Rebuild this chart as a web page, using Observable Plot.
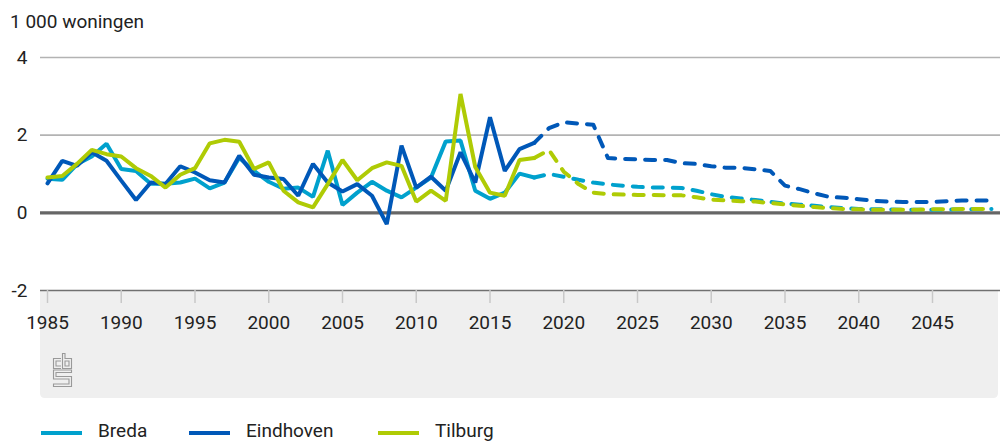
<!DOCTYPE html>
<html>
<head>
<meta charset="utf-8">
<script src="https://cdn.jsdelivr.net/npm/d3@7"></script>
<script src="https://cdn.jsdelivr.net/npm/@observablehq/plot@0.6"></script>
<style>
  html, body { margin: 0; padding: 0; background: #fff; }
  body { width: 1000px; height: 443px; overflow: hidden; font-family: Roboto, "Noto Sans", sans-serif; color: #222; }
  #title { position: relative; height: 40px; }
  #title span { position: absolute; left: 10px; top: 12px; font-size: 19px; line-height: 19px; }
  #chart { height: 360px; }
  #chart svg { display: block; }
  #legend { position: relative; height: 43px; }
  .item { position: absolute; top: 21px; font-size: 19px; line-height: 20px; }
  .sw { position: absolute; width: 41px; height: 4px; }
</style>
</head>
<body>
<div id="title"><span>1 000 woningen</span></div>
<div id="chart"></div>
<div id="legend"></div>
<script>
const firstYear = 1985;
const lastYear = 2049;
const lastObserved = 2018;
const cities = ["Breda", "Eindhoven", "Tilburg"];
const cityColors = ["#00a1cd", "#0058b8", "#afcb05"];
const yTicks = [-2, 0, 2, 4];
const xTicks = [1985, 1990, 1995, 2000, 2005, 2010, 2015, 2020, 2025, 2030, 2035, 2040, 2045];

// values in 1 000 woningen, 1985 .. 2049
const breda = [
  0.88, 0.85, 1.25, 1.45, 1.78, 1.13, 1.08, 0.75, 0.75, 0.78,
  0.88, 0.63, 0.78, 1.42, 1.08, 0.80, 0.62, 0.65, 0.41, 1.60,
  0.20, 0.52, 0.80, 0.57, 0.40, 0.65, 0.91, 1.84, 1.86, 0.57,
  0.36, 0.52, 1.01, 0.91,
  1.00, 0.93, 0.85, 0.78, 0.73, 0.70, 0.67, 0.65, 0.65, 0.64,
  0.57, 0.48, 0.41, 0.37, 0.33, 0.28, 0.24, 0.21, 0.18, 0.15,
  0.12, 0.10, 0.09, 0.09, 0.08, 0.08, 0.08, 0.08, 0.09, 0.09, 0.10
];
const eindhoven = [
  0.76, 1.34, 1.21, 1.56, 1.34, 0.83, 0.33, 0.78, 0.74, 1.20,
  1.04, 0.84, 0.78, 1.47, 0.98, 0.91, 0.87, 0.44, 1.26, 0.78,
  0.55, 0.74, 0.44, -0.29, 1.73, 0.65, 0.93, 0.57, 1.56, 0.78,
  2.46, 1.08, 1.64, 1.80,
  2.18, 2.33, 2.30, 2.27, 1.41, 1.39, 1.38, 1.36, 1.36, 1.28,
  1.26, 1.20, 1.16, 1.16, 1.12, 1.08, 0.70, 0.61, 0.50, 0.41,
  0.39, 0.35, 0.31, 0.29, 0.28, 0.28, 0.28, 0.30, 0.32, 0.32, 0.32
];
const tilburg = [
  0.91, 0.95, 1.26, 1.62, 1.51, 1.45, 1.15, 0.95, 0.65, 0.98,
  1.15, 1.79, 1.88, 1.83, 1.13, 1.30, 0.57, 0.27, 0.14, 0.74,
  1.36, 0.84, 1.15, 1.30, 1.21, 0.29, 0.57, 0.31, 3.06, 1.18,
  0.52, 0.44, 1.36, 1.41,
  1.62, 1.06, 0.74, 0.52, 0.48, 0.47, 0.46, 0.46, 0.45, 0.45,
  0.40, 0.34, 0.32, 0.30, 0.29, 0.25, 0.22, 0.18, 0.15, 0.12,
  0.10, 0.09, 0.08, 0.08, 0.08, 0.08, 0.09, 0.09, 0.10, 0.10, 0.10
];

const series = [breda, eindhoven, tilburg];
const years = d3.range(firstYear, lastYear + 1);
const rows = cities.flatMap((city, i) => years.map((year, j) => ({city, year, value: series[i][j]})));
const observed = rows.filter(d => d.year <= lastObserved);
const forecast = rows.filter(d => d.year >= lastObserved);

function band(index, scales, values, dims) {
  const g = d3.create("svg:g");
  const x0 = dims.marginLeft, x1 = dims.width - 2;
  const y0 = scales.y(-2), y1 = dims.height - 2, r = 5;
  g.append("path")
    .attr("fill", "#efefef")
    .attr("d", `M${x0},${y0}H${x1}V${y1 - r}Q${x1},${y1} ${x1 - r},${y1}H${x0 + r}Q${x0},${y1} ${x0},${y1 - r}Z`);
  // CBS logo (decorative)
  const logo = g.append("g")
    .attr("transform", `translate(${x0 + 12},${y0 + 62})`)
    .attr("fill", "none").attr("stroke", "#999").attr("stroke-width", 1.1);
  logo.append("path").attr("d", "M9,6.5H1.5V16.5H9 M9,9H4V14H9");
  logo.append("path").attr("d", "M10.5,1.5V16.5H19.5V6.5H13V1.5Z M13,9H17V14H13Z");
  logo.append("path").attr("d", "M19.5,18H1.5V27H17V32H1.5V34.5H19.5V24.5H4V20.5H19.5Z");
  return g.node();
}

const chart = Plot.plot({
  width: 1000,
  height: 360,
  marginLeft: 40,
  marginRight: 0,
  marginTop: 17,
  marginBottom: 110,
  x: {domain: [firstYear, lastYear], insetLeft: 7, insetRight: 9, label: null},
  y: {domain: [-2, 4], label: null},
  color: {domain: cities, range: cityColors},
  style: {fontFamily: "Roboto, 'Noto Sans', sans-serif", fontSize: "19px", color: "#222", background: "#fff", overflow: "visible"},
  marks: [
    band,
    Plot.ruleY([2, 4], {stroke: "#b3b3b3", strokeWidth: 1.6}),
    Plot.ruleY([-2], {stroke: "#707070", strokeWidth: 1.5}),
    Plot.axisY({ticks: yTicks, tickFormat: d => String(d), tickSize: 0, tickPadding: 13, fontSize: 19, label: null}),
    Plot.axisX({ticks: xTicks, tickFormat: d => String(d), tickSize: 13, tickPadding: 12, stroke: "#c8c8c8", strokeWidth: 1.5, fontSize: 19, label: null}),
    Plot.ruleY([0], {stroke: "#666", strokeWidth: 3.2}),
    Plot.lineY(observed, {x: "year", y: "value", z: "city", stroke: "city", strokeWidth: 4, strokeLinejoin: "miter"}),
    Plot.lineY(forecast, {x: "year", y: "value", z: "city", stroke: "city", strokeWidth: 4, strokeDasharray: "10,10"})
  ]
});
document.getElementById("chart").append(chart);

const legend = document.getElementById("legend");
const swX = [41, 189, 378];
cities.forEach((c, i) => {
  const sw = document.createElement("div");
  sw.className = "sw";
  sw.style.left = swX[i] + "px";
  sw.style.top = "31px";
  sw.style.background = cityColors[i];
  legend.append(sw);
  const t = document.createElement("div");
  t.className = "item";
  t.style.left = (swX[i] + 57) + "px";
  t.textContent = c;
  legend.append(t);
});
</script>
</body>
</html>
